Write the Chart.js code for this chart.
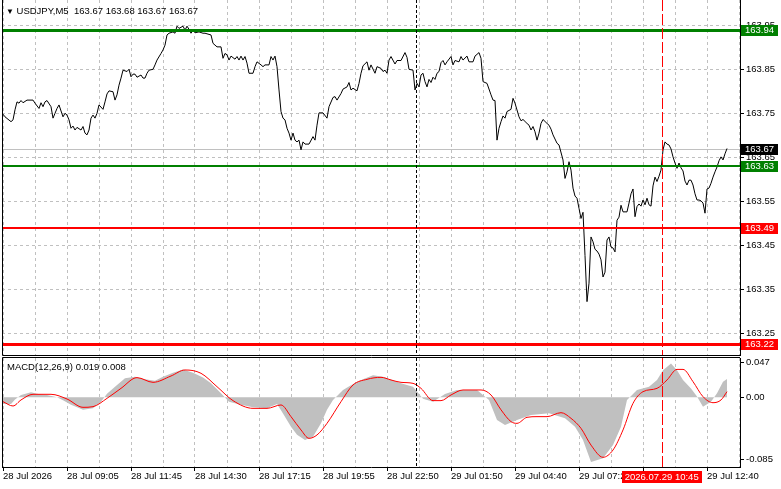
<!DOCTYPE html>
<html>
<head>
<meta charset="utf-8">
<script src="https://cdn.jsdelivr.net/npm/chart.js@4.4.1/dist/chart.umd.min.js"></script>
<style>
  html, body { margin: 0; padding: 0; background: #fff; }
  #wrap { position: relative; width: 781px; height: 489px; overflow: hidden; font-family: "Liberation Sans", Arial, sans-serif; }
  #wrap canvas { position: absolute; left: 0; }
  #main { top: 0; }
  #macd { top: 356px; }
  .caption { position: absolute; font-size: 9.5px; line-height: 14px; color: #000; white-space: pre; }
</style>
</head>
<body>
<div id="wrap">
  <canvas id="main" width="781" height="356"></canvas>
  <canvas id="macd" width="781" height="133"></canvas>
  <div class="caption" style="left:6px;top:4px"><span style="font-size:8px">▼</span> USDJPY,M5  163.67 163.68 163.67 163.67</div>
  <div class="caption" style="left:7px;top:360px">MACD(12,26,9) 0.019 0.008</div>
</div>
<script>
// M5 bars, counted from the left edge of the chart
const priceBar = [
  0, 1, 4, 5, 6, 7, 8, 9, 10, 12,
  15, 16, 18, 19, 20, 21, 22, 24, 25, 26,
  27, 28, 30, 31, 32, 33, 34, 35, 36, 37,
  39, 40, 41, 42, 43, 44, 45, 46, 47, 48,
  50, 51, 52, 53, 55, 56, 57, 58, 59, 60,
  62, 63, 64, 65, 66, 67, 69, 70, 71, 72,
  73, 75, 76, 77, 79, 80, 81, 82, 83, 85,
  86, 87, 88, 90, 91, 92, 93, 94, 95, 96,
  98, 100, 101, 104, 105, 107, 109, 110, 111, 112,
  113, 114, 116, 117, 118, 119, 120, 121, 122, 123,
  125, 126, 127, 129, 130, 131, 132, 133, 134, 135,
  136, 137, 138, 139, 140, 141, 142, 143, 144, 145,
  146, 147, 148, 149, 150, 151, 153, 155, 156, 157,
  158, 160, 162, 163, 165, 166, 167, 169, 170, 172,
  173, 174, 175, 177, 178, 179, 180, 182, 183, 184,
  186, 187, 189, 190, 191, 192, 193, 194, 196, 197,
  199, 201, 202, 203, 205, 206, 207, 208, 209, 210,
  211, 212, 213, 214, 215, 216, 217, 218, 219, 220,
  221, 222, 224, 225, 226, 228, 229, 230, 232, 233,
  235, 236, 238, 239, 240, 241, 242, 244, 245, 246,
  247, 248, 249, 250, 251, 252, 254, 255, 256, 258,
  259, 260, 262, 263, 264, 265, 266, 267, 268, 269,
  270, 272, 273, 274, 275, 277, 278, 280, 281, 282,
  283, 284, 285, 286, 287, 288, 289, 290, 291, 292,
  293, 294, 295, 296, 297, 298, 299, 300, 301, 302,
  303, 304, 305, 306, 307, 308, 309, 310, 311, 312,
  313, 314, 315, 316, 317, 318, 319, 320, 321, 322,
  323, 324, 325, 326, 327, 328, 329, 330, 331, 332,
  333, 334, 335, 336, 337, 338, 339, 340, 341, 342,
  343, 344, 345, 346, 347, 348, 349, 350, 351, 352,
  353, 354, 355, 356, 357, 358, 359, 360, 361, 362
];
const priceClose = [
  163.748, 163.742, 163.731, 163.735, 163.758, 163.776, 163.773, 163.779, 163.774, 163.780,
  163.780, 163.773, 163.761, 163.774, 163.765, 163.776, 163.779, 163.765, 163.739, 163.750,
  163.761, 163.769, 163.742, 163.750, 163.746, 163.735, 163.716, 163.721, 163.712, 163.718,
  163.712, 163.720, 163.705, 163.701, 163.712, 163.739, 163.746, 163.739, 163.750, 163.769,
  163.759, 163.776, 163.794, 163.801, 163.799, 163.780, 163.792, 163.814, 163.830, 163.848,
  163.845, 163.850, 163.833, 163.839, 163.839, 163.832, 163.837, 163.830, 163.830, 163.841,
  163.848, 163.850, 163.860, 163.871, 163.886, 163.894, 163.905, 163.928, 163.932, 163.935,
  163.932, 163.948, 163.943, 163.948, 163.939, 163.948, 163.941, 163.932, 163.939, 163.933,
  163.935, 163.932, 163.932, 163.928, 163.909, 163.901, 163.901, 163.875, 163.886, 163.883,
  163.871, 163.880, 163.873, 163.879, 163.871, 163.880, 163.871, 163.879, 163.864, 163.841,
  163.841, 163.856, 163.867, 163.860, 163.856, 163.860, 163.860, 163.860, 163.879, 163.871,
  163.880, 163.856, 163.803, 163.754, 163.739, 163.735, 163.716, 163.705, 163.689, 163.705,
  163.689, 163.685, 163.689, 163.667, 163.685, 163.680, 163.680, 163.697, 163.689, 163.723,
  163.751, 163.751, 163.739, 163.765, 163.786, 163.788, 163.780, 163.795, 163.805, 163.810,
  163.820, 163.803, 163.807, 163.801, 163.818, 163.841, 163.858, 163.867, 163.848, 163.860,
  163.841, 163.856, 163.852, 163.845, 163.848, 163.841, 163.871, 163.879, 163.862, 163.870,
  163.870, 163.888, 163.877, 163.850, 163.848, 163.803, 163.818, 163.810, 163.837, 163.841,
  163.822, 163.810, 163.827, 163.820, 163.832, 163.827, 163.841, 163.845, 163.865, 163.870,
  163.860, 163.867, 163.879, 163.860, 163.870, 163.867, 163.879, 163.871, 163.880, 163.867,
  163.867, 163.880, 163.888, 163.875, 163.822, 163.820, 163.818, 163.792, 163.780, 163.779,
  163.689, 163.716, 163.731, 163.744, 163.739, 163.754, 163.759, 163.784, 163.773, 163.742,
  163.733, 163.736, 163.727, 163.723, 163.712, 163.720, 163.708, 163.689, 163.705, 163.727,
  163.736, 163.727, 163.723, 163.714, 163.701, 163.682, 163.678, 163.644, 163.602, 163.617,
  163.640, 163.621, 163.580, 163.562, 163.557, 163.534, 163.511, 163.525, 163.427, 163.322,
  163.364, 163.469, 163.458, 163.441, 163.437, 163.430, 163.417, 163.378, 163.389, 163.462,
  163.469, 163.446, 163.444, 163.435, 163.507, 163.514, 163.541, 163.526, 163.526, 163.526,
  163.546, 163.567, 163.578, 163.515, 163.538, 163.544, 163.539, 163.553, 163.542, 163.557,
  163.542, 163.539, 163.585, 163.605, 163.595, 163.607, 163.621, 163.667, 163.685, 163.680,
  163.678, 163.669, 163.651, 163.637, 163.625, 163.637, 163.626, 163.619, 163.596, 163.587,
  163.598, 163.598, 163.587, 163.567, 163.553, 163.553, 163.551, 163.546, 163.523, 163.578,
  163.580, 163.591, 163.605, 163.617, 163.628, 163.642, 163.651, 163.644, 163.658, 163.670
];

// MACD(12,26,9): main as grey histogram, signal as red line
const histBar = [
  0, 4, 6, 9, 14, 17, 22, 27, 30, 34,
  40, 45, 49, 52, 56, 61, 66, 71, 76, 80,
  85, 90, 95, 100, 104, 109, 113, 119, 125, 132,
  137, 140, 144, 147, 151, 155, 159, 162, 165, 170,
  175, 180, 185, 190, 199, 205, 210, 215, 221, 227,
  237, 243, 247, 251, 257, 264, 273, 281, 286, 290,
  294, 300, 305, 309, 312, 317, 323, 327, 330, 334,
  337, 340, 344, 347, 350, 354, 357, 360, 362
];
const histValue = [
  -0.009, -0.009, -0.003, 0.003, 0.0068, 0.005, 0.003, 0.0, -0.004, -0.010,
  -0.017, -0.015, -0.006, 0.005, 0.0145, 0.026, 0.028, 0.0245, 0.0227, 0.028,
  0.0336, 0.038, 0.0336, 0.027, 0.019, 0.0054, -0.006, -0.010, -0.0136, -0.015,
  -0.009, -0.022, -0.040, -0.051, -0.058, -0.0535, -0.0354, -0.017, -0.0036, 0.010,
  0.018, 0.0245, 0.030, 0.028, 0.019, 0.0145, -0.002, -0.006, 0.0045, 0.010,
  0.010, -0.0036, -0.031, -0.0376, -0.031, -0.024, -0.0218, -0.0286, -0.040, -0.058,
  -0.088, -0.083, -0.065, -0.040, -0.0036, 0.010, 0.0145, 0.0236, 0.037, 0.046,
  0.037, 0.0236, 0.012, 0.001, -0.0127, -0.006, 0.0054, 0.0213, 0.025
];
const signalBar = [
  0, 5, 9, 15, 24, 32, 40, 45, 52, 59,
  67, 75, 84, 91, 99, 107, 115, 125, 132, 139,
  144, 149, 153, 157, 162, 169, 175, 182, 189, 194,
  199, 205, 209, 215, 219, 224, 230, 239, 244, 249,
  254, 257, 262, 267, 272, 279, 284, 289, 294, 300,
  305, 310, 315, 320, 327, 332, 337, 340, 345, 350,
  355, 359, 362
];
const signalValue = [
  -0.0059, -0.0118, -0.0036, 0.0041, 0.0041, -0.0023, -0.0136, -0.0127, -0.0014, 0.0122,
  0.0268, 0.0204, 0.029, 0.0372, 0.0327, 0.0145, -0.0045, -0.015, -0.015, -0.0104,
  -0.0263, -0.0444, -0.0558, -0.0512, -0.0354, -0.0059, 0.0168, 0.0245, 0.0272, 0.0236,
  0.0204, 0.019, 0.0122, -0.0045, -0.0045, 0.0032, 0.010, 0.010, 0.0032, -0.017,
  -0.0331, -0.0354, -0.0272, -0.0263, -0.0263, -0.0209, -0.0286, -0.0422, -0.065, -0.0816,
  -0.0717, -0.0444, -0.0082, 0.0077, 0.0122, 0.0236, 0.038, 0.038, 0.0213, 0.0009,
  -0.0073, -0.0036, 0.0077
];

const priceTicks = [163.25, 163.35, 163.45, 163.55, 163.65, 163.75, 163.85, 163.95];
const macdTicks = [0.047, 0, -0.085];
const macdTickLabels = ["0.047", "0.00", "-0.085"];
const timeTickBars = [0, 32, 64, 96, 128, 160, 192, 224, 256, 288, 320, 352];
const timeTickLabels = [
  "28 Jul 2026", "28 Jul 09:05", "28 Jul 11:45", "28 Jul 14:30", "28 Jul 17:15", "28 Jul 19:55",
  "28 Jul 22:50", "29 Jul 01:50", "29 Jul 04:40", "29 Jul 07:25", "", "29 Jul 12:40"
];

const levelValues = [163.94, 163.63, 163.49, 163.225];
const levelLabels = ["163.94", "163.63", "163.49", "163.22"];
const levelColors = ["#008000", "#008000", "#ff0000", "#ff0000"];
const levelWidths = [3, 2, 2, 3];
const lastPrice = 163.67;
const daySeparatorBar = 206.25; // 29 Jul 00:00
const crosshairBar = 329.35;
const crosshairLabel = "2026.07.29 10:45";

// visible window
const barMin = -0.5, barMax = 368.5;
const priceMin = 163.2007, priceMax = 164.0075;
const macdMin = -0.0948, macdMax = 0.0535;

const GRID = "#c0c0c0";
const FONT = { family: "'Liberation Sans', Arial, sans-serif", size: 9.5 };
const CANVAS_FONT = "9.5px 'Liberation Sans', Arial, sans-serif";
const AXIS_W = 41;

const gridBars = [];
for (let b = 0; b < barMax; b += 16) gridBars.push(b);

function timeAxis(withLabels) {
  return {
    type: "linear",
    position: "bottom",
    min: barMin,
    max: barMax,
    afterBuildTicks: (s) => { s.ticks = gridBars.map((v) => ({ value: v })); },
    afterFit: (s) => { s.height = withLabels ? 22 : 0; s.paddingLeft = 0; s.paddingRight = 0; },
    grid: {
      color: GRID,
      lineWidth: 1,
      drawTicks: withLabels,
      tickLength: 4,
      tickWidth: 1,
      tickBorderDash: [],
      tickColor: (c) => (c.tick && timeTickBars.includes(c.tick.value) ? "#000" : "rgba(0,0,0,0)"),
    },
    border: { display: withLabels, color: "#000", width: 1, dash: [3, 3] },
    ticks: {
      display: withLabels,
      autoSkip: false,
      maxRotation: 0,
      minRotation: 0,
      align: "start",
      padding: 0,
      color: "#000",
      font: FONT,
      callback: (v) => {
        const i = timeTickBars.indexOf(v);
        return i < 0 ? "" : timeTickLabels[i];
      },
    },
  };
}

function drawMarkers(ctx, x, top, bottom) {
  ctx.save();
  ctx.lineWidth = 1;
  let px = Math.round(x.getPixelForValue(daySeparatorBar)) + 0.5;
  ctx.strokeStyle = "#000";
  ctx.setLineDash([3, 2]);
  ctx.beginPath(); ctx.moveTo(px, top); ctx.lineTo(px, bottom); ctx.stroke();
  px = Math.round(x.getPixelForValue(crosshairBar)) + 0.5;
  ctx.strokeStyle = "#ff0000";
  ctx.setLineDash([11, 3]);
  ctx.beginPath(); ctx.moveTo(px, top); ctx.lineTo(px, bottom); ctx.stroke();
  ctx.restore();
}

const mainOverlay = {
  id: "mainOverlay",
  beforeDatasetsDraw(chart) {
    const { ctx, chartArea: a, scales: { y } } = chart;
    const py = Math.round(y.getPixelForValue(lastPrice)) + 0.5;
    ctx.save();
    ctx.strokeStyle = "#c0c0c0";
    ctx.lineWidth = 1;
    ctx.beginPath(); ctx.moveTo(a.left, py); ctx.lineTo(a.right, py); ctx.stroke();
    ctx.restore();
  },
  afterDatasetsDraw(chart) {
    const { ctx, chartArea: a, scales: { x, y } } = chart;
    ctx.save();
    levelValues.forEach((v, i) => {
      const py = Math.round(y.getPixelForValue(v)) + (levelWidths[i] % 2 ? 0.5 : 0);
      ctx.strokeStyle = levelColors[i];
      ctx.lineWidth = levelWidths[i];
      ctx.beginPath(); ctx.moveTo(a.left, py); ctx.lineTo(a.right, py); ctx.stroke();
    });
    ctx.restore();
    drawMarkers(ctx, x, a.top, a.bottom);
    ctx.save();
    ctx.strokeStyle = "#000";
    ctx.lineWidth = 1;
    ctx.beginPath();
    ctx.moveTo(a.left + 0.5, a.top);
    ctx.lineTo(a.left + 0.5, a.bottom + 0.5);
    ctx.lineTo(a.right, a.bottom + 0.5);
    ctx.stroke();
    ctx.restore();
  },
  afterDraw(chart) {
    const { ctx, chartArea: a, scales: { y } } = chart;
    const tags = levelValues.map((v, i) => ({ v, text: levelLabels[i], color: levelColors[i] }));
    tags.push({ v: lastPrice, text: lastPrice.toFixed(2), color: "#000" });
    ctx.save();
    ctx.font = CANVAS_FONT;
    ctx.textBaseline = "middle";
    ctx.textAlign = "left";
    tags.forEach((t) => {
      const py = Math.round(y.getPixelForValue(t.v));
      ctx.fillStyle = t.color;
      ctx.fillRect(a.right + 1, py - 5, 37, 11);
      ctx.fillStyle = "#fff";
      ctx.fillText(t.text, a.right + 5, py + 0.5);
    });
    ctx.restore();
  },
};

const macdOverlay = {
  id: "macdOverlay",
  afterDatasetsDraw(chart) {
    const { ctx, chartArea: a, scales: { x } } = chart;
    drawMarkers(ctx, x, a.top, a.bottom);
    ctx.save();
    ctx.strokeStyle = "#000";
    ctx.lineWidth = 1;
    ctx.beginPath();
    ctx.moveTo(a.left + 0.5, a.bottom);
    ctx.lineTo(a.left + 0.5, a.top - 0.5);
    ctx.lineTo(a.right, a.top - 0.5);
    ctx.stroke();
    ctx.restore();
  },
  afterDraw(chart) {
    const { ctx, chartArea: a, scales: { x } } = chart;
    const px = x.getPixelForValue(crosshairBar);
    ctx.save();
    ctx.font = CANVAS_FONT;
    const w = Math.round(ctx.measureText(crosshairLabel).width + 6);
    ctx.fillStyle = "#ff0000";
    ctx.fillRect(Math.round(px - w / 2), a.bottom + 4, w, 12);
    ctx.fillStyle = "#fff";
    ctx.textAlign = "center";
    ctx.textBaseline = "middle";
    ctx.fillText(crosshairLabel, px, a.bottom + 10.5);
    ctx.restore();
  },
};

const common = {
  responsive: false,
  maintainAspectRatio: false,
  animation: false,
  events: [],
  plugins: { legend: { display: false }, tooltip: { enabled: false } },
};

new Chart(document.getElementById("main"), {
  type: "line",
  data: {
    datasets: [
      {
        data: priceBar.map((b, i) => ({ x: b, y: priceClose[i] })),
        borderColor: "#000",
        borderWidth: 1,
        pointRadius: 0,
        tension: 0,
      },
    ],
  },
  options: {
    ...common,
    layout: { padding: { left: 2, right: 0, top: 0, bottom: 1 } },
    scales: {
      x: timeAxis(false),
      y: {
        type: "linear",
        position: "right",
        min: priceMin,
        max: priceMax,
        afterBuildTicks: (s) => { s.ticks = priceTicks.map((v) => ({ value: v })); },
        afterFit: (s) => { s.width = AXIS_W; s.paddingTop = 0; s.paddingBottom = 0; },
        grid: { color: GRID, drawTicks: true, tickLength: 4, tickWidth: 1, tickColor: "#000", tickBorderDash: [] },
        border: { display: true, color: "#000", width: 1, dash: [3, 3] },
        ticks: { color: "#000", font: FONT, padding: 2, callback: (v) => v.toFixed(2) },
      },
    },
  },
  plugins: [mainOverlay],
});

new Chart(document.getElementById("macd"), {
  type: "line",
  data: {
    datasets: [
      {
        data: signalBar.map((b, i) => ({ x: b, y: signalValue[i] })),
        borderColor: "#ff0000",
        borderWidth: 1,
        pointRadius: 0,
        cubicInterpolationMode: "monotone",
      },
      {
        data: histBar.map((b, i) => ({ x: b, y: histValue[i] })),
        borderColor: "rgba(0,0,0,0)",
        borderWidth: 0,
        backgroundColor: "#c0c0c0",
        fill: "origin",
        pointRadius: 0,
        tension: 0,
      },
    ],
  },
  options: {
    ...common,
    layout: { padding: { left: 2, right: 0, top: 2, bottom: 0 } },
    scales: {
      x: timeAxis(true),
      y: {
        type: "linear",
        position: "right",
        min: macdMin,
        max: macdMax,
        afterBuildTicks: (s) => { s.ticks = macdTicks.map((v) => ({ value: v })); },
        afterFit: (s) => { s.width = AXIS_W; s.paddingTop = 0; s.paddingBottom = 0; },
        grid: { drawOnChartArea: false, drawTicks: true, tickLength: 4, tickWidth: 1, tickColor: "#000" },
        border: { display: true, color: "#000", width: 1 },
        ticks: { color: "#000", font: FONT, padding: 2, callback: (v, i) => macdTickLabels[i] },
      },
    },
  },
  plugins: [macdOverlay],
});
</script>
</body>
</html>
